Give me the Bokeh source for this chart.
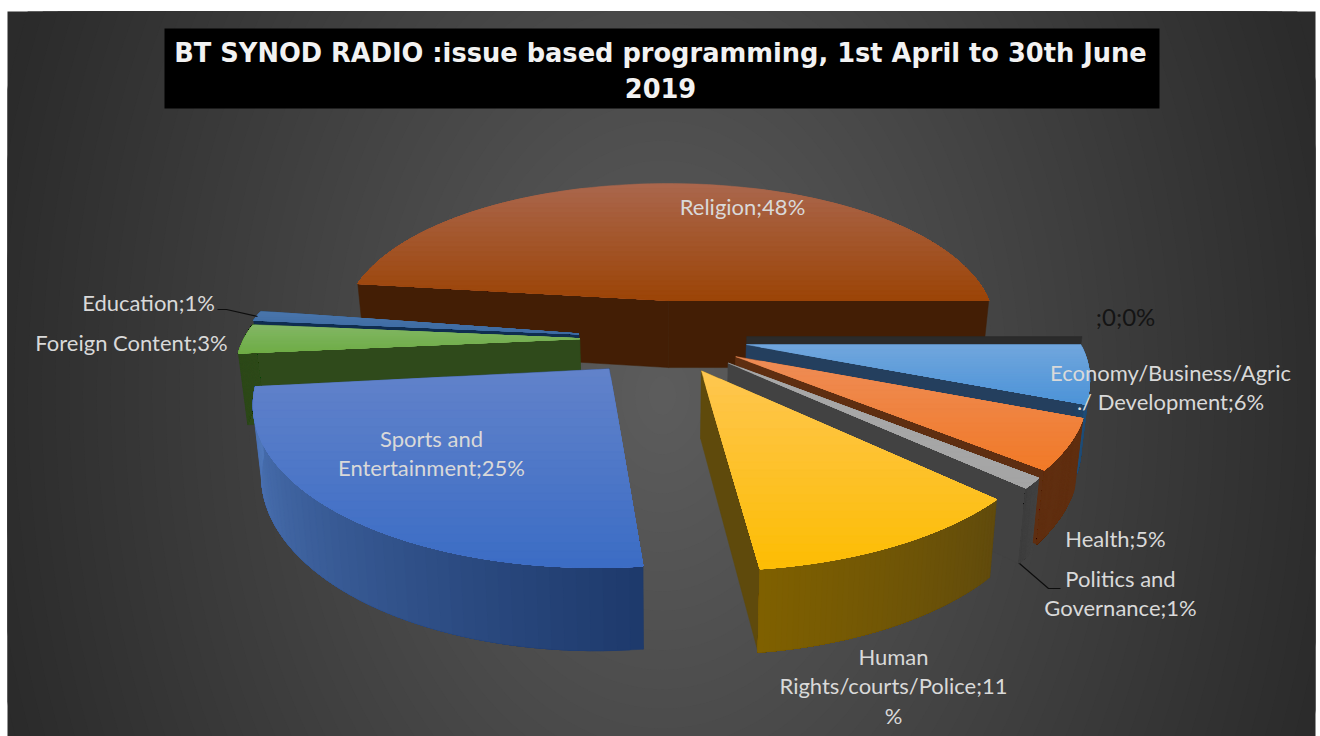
import math
from bokeh.plotting import figure
from bokeh.models import Range1d
from bokeh.core.properties import value
from bokeh.embed import file_html
from bokeh.resources import INLINE

# Programme shares in percent, clockwise from the pie's first slice
categories = ["Religion", "", "Economy/Business/Agric ./ Development", "Health",
              "Politics and Governance", "Human Rights/courts/Police",
              "Sports and Entertainment", "Foreign Content", "Education"]
shares = [48, 0, 6, 5, 1, 11, 25, 3, 1]

TITLE_LINES = ["BT SYNOD RADIO :issue based programming, 1st April to 30th June", "2019"]

# Slice styling: top-face gradient (far to near), cut-face colour, outer-wall gradient
top_far = ["#aa664c", "#2b2b2b", "#70a6dd", "#ee8c56", "#a8a8a8", "#fec64f", "#6182ca", "#83b766", "#4a76ab"]
top_near = ["#9c4508", "#2b2b2b", "#4e94d8", "#f17a28", "#a5a5a5", "#fdbd05", "#3c6dc5", "#70ad47", "#3f6ca3"]
cut_face = ["#431e05", "#2b2b2b", "#243f5e", "#5e2e11", "#424242", "#5f4a0c", "#1f3864", "#2f4a1b", "#0f2d50"]
wall_a = ["#431e05", "#2b2b2b", "#22405f", "#602f10", "#444444", "#614b0c", "#1e3a6c", "#2f4a1b", "#0f2d50"]
wall_b = ["#431e05", "#2b2b2b", "#1f4e79", "#602f10", "#3f3f3f", "#7f6000", "#4f77b9", "#2f4a1b", "#0f2d50"]
explode = [0.26, 0.25, 0.25, 0.245, 0.25, 0.24, 0.255, 0.25, 0.255]
radius = [1.0, 0.99, 0.99, 1.0, 1.0, 1.0, 1.0, 1.0, 1.0]
turn = [0.0, 0.0, 0.0, 0.0, 0.0, 0.5, 1.0, 1.8, 1.8]
thick = [1.1, 1.0, 1.0, 1.0, 1.0, 1.02, 1.02, 1.1, 1.1]
draw_order = [0, 8, 7, 6, 1, 2, 3, 4, 5]

# Projection of the pie plane to page pixels
CX, CY, RX, RY, PERSP, DEPTH = 663.0, 337.0, 335.0, 150.0, 0.18, 64.0
START = -82.8


def project(px, py, z=0.0):
    d = 1 + PERSP * py
    x = CX + RX * px / d
    y = CY - RY * py / d + DEPTH * z / d
    x = CX + (x - CX) * (1 - 0.02 * z)
    return x, y


def mix(c1, c2, t):
    a = [int(c1[i:i + 2], 16) for i in (1, 3, 5)]
    b = [int(c2[i:i + 2], 16) for i in (1, 3, 5)]
    return "#%02x%02x%02x" % tuple(round(a[i] + (b[i] - a[i]) * t) for i in range(3))


def clip_below(pts, yb):
    out = []
    n = len(pts)
    for i in range(n):
        x0, y0 = pts[i]
        x1, y1 = pts[(i + 1) % n]
        if y0 >= yb:
            out.append((x0, y0))
        if (y0 >= yb) != (y1 >= yb):
            t = (yb - y0) / (y1 - y0)
            out.append((x0 + (x1 - x0) * t, yb))
    return out


xs, ys, fills = [], [], []


def add(pts, color):
    if len(pts) >= 3:
        xs.append([q[0] for q in pts])
        ys.append([q[1] for q in pts])
        fills.append(color)


# Angular extent of each slice from its share
total = sum(shares)
spans = []
ang = START
for s in shares:
    spans.append((ang, ang + 360.0 * s / total))
    ang += 360.0 * s / total

for i in draw_order:
    a0, a1 = spans[i]
    if shares[i] == 0:
        # An empty slice is pushed out along with the slice that follows it
        follow = spans[i + 1]
        mid = math.radians((follow[0] + follow[1]) / 2)
    else:
        mid = math.radians((a0 + a1) / 2)
    ox, oy = explode[i] * math.sin(mid), explode[i] * math.cos(mid)
    r = radius[i]
    low = thick[i]

    def rim(deg, z=0.0):
        t = math.radians(deg + turn[i])
        return project(ox + r * math.sin(t), oy + r * math.cos(t), z)

    apex = project(ox, oy)
    apex_low = project(ox, oy, low)

    if shares[i] == 0:
        # Only a thin sliver of the empty slice stands behind its neighbour
        add([project(ox, oy, -0.125), rim(a0, -0.125), rim(a0), apex], cut_face[i])
        continue

    # The two cut faces
    add([apex, rim(a0), rim(a0, low), apex_low], cut_face[i])
    add([apex, rim(a1), rim(a1, low), apex_low], cut_face[i])

    # Outer wall, painted as overlapping layers for a horizontal gradient
    steps = 50
    layers = [a0 + (a1 - a0) * k / steps for k in range(steps + 1)]
    faces_back = math.cos(mid) > 0.5
    for k in range(steps):
        d0 = layers[k]
        if faces_back or math.cos(math.radians(d0)) > 0.06:
            continue
        arc = [d0 + (a1 - d0) * m / 24 for m in range(25)]
        poly = [rim(d) for d in arc] + [rim(d, low) for d in reversed(arc)]
        add(poly, mix(wall_a[i], wall_b[i], k / (steps - 1)))

    # Top face, painted as overlapping layers for a vertical gradient
    top = [apex] + [rim(a0 + (a1 - a0) * m / 70) for m in range(71)]
    ymin = min(q[1] for q in top)
    ymax = max(q[1] for q in top)
    bands = 24
    for k in range(bands):
        yb = ymin + (ymax - ymin) * k / bands
        add(clip_below(top, yb), mix(top_far[i], top_near[i], k / (bands - 1)))

p = figure(width=1320, height=736, output_backend="svg", toolbar_location=None,
           x_range=Range1d(7, 1315), y_range=Range1d(736, 11),
           min_border_left=7, min_border_right=5, min_border_top=11, min_border_bottom=0,
           border_fill_color="#ffffff", background_fill_color="#2b2b2b", outline_line_color=None)
p.axis.visible = False
p.grid.visible = False

# Backdrop: elliptical glow from the middle of the panel
rings = 50
bg_w = [2 * 690 * (1 - k / rings) for k in range(rings)]
bg_h = [2 * 980 * (1 - k / rings) for k in range(rings)]
bg_c = [mix("#2b2b2b", "#5c5c5c", k / (rings - 1)) for k in range(rings)]
p.ellipse(x=[662] * rings, y=[395] * rings, width=bg_w, height=bg_h, fill_color=bg_c, line_color=None)

p.patches(xs, ys, fill_color=fills, line_color=fills, line_width=0.5)

# Title banner
p.quad(left=[164], right=[1159], top=[28], bottom=[108], fill_color="#000000", line_color=None)
p.text(x=[660, 660], y=[52, 87], text=TITLE_LINES, text_color="#f2f2f2", text_align="center",
       text_baseline="middle", text_font=value("DejaVu Sans"), text_font_style="bold",
       text_font_size="25.7px")

# Leader lines
p.line([217, 226, 257], [309, 309, 316], line_color="#0d0d0d", line_width=1.2)
p.line([1019, 1048, 1060], [563, 588, 588], line_color="#0d0d0d", line_width=1.2)

# Data labels
label_text = ["Religion;48%", "Economy/Business/Agric", "./ Development;6%", "Health;5%",
              "Politics and", "Governance;1%", "Human", "Rights/courts/Police;11", "%",
              "Sports and", "Entertainment;25%", "Foreign Content;3%", "Education;1%"]
label_x = [742, 1170, 1170, 1115, 1120, 1120, 893, 893, 893, 431, 431, 131, 148]
label_y = [206, 372, 401, 538, 578, 607, 656, 685, 715, 438, 467, 342, 302]
p.text(x=label_x, y=label_y, text=label_text, text_color="#d9d9d9", text_align="center",
       text_baseline="middle", text_font=value("Lato"), text_font_size="22px")
p.text(x=[1125], y=[316], text=[";0;0%"], text_color="#141414", text_align="center",
       text_baseline="middle", text_font=value("Lato"), text_font_size="24px")

open("out.html", "w").write(file_html(p, INLINE))
